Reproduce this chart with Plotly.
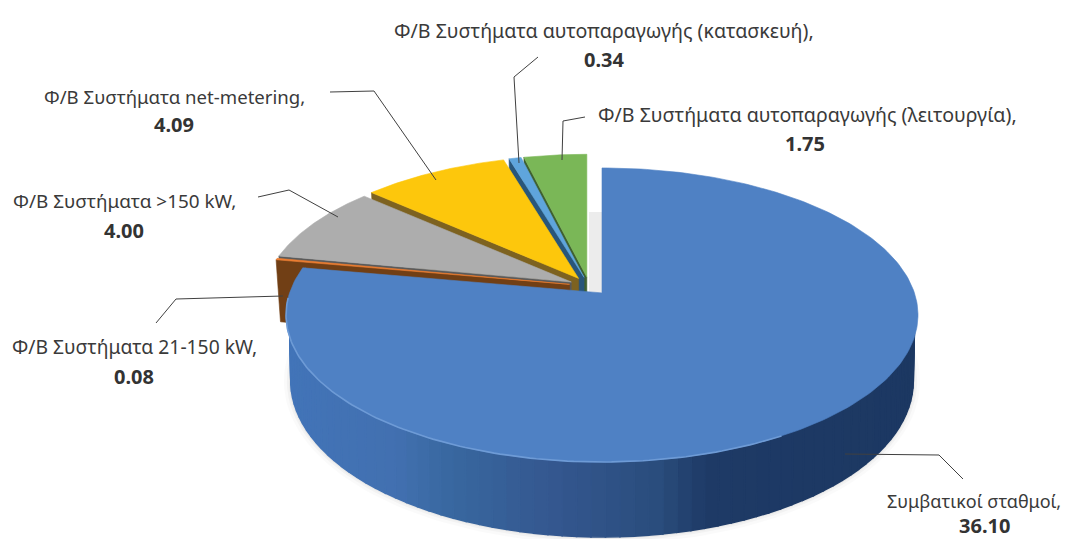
import math
import plotly.graph_objects as go

names = ["Συμβατικοί σταθμοί,", "Φ/Β Συστήματα 21-150 kW,", "Φ/Β Συστήματα >150 kW,",
         "Φ/Β Συστήματα net-metering,", "Φ/Β Συστήματα αυτοπαραγωγής (κατασκευή),",
         "Φ/Β Συστήματα αυτοπαραγωγής (λειτουργία),"]
values = [36.10, 0.08, 4.00, 4.09, 0.34, 1.75]
value_labels = ["36.10", "0.08", "4.00", "4.09", "0.34", "1.75"]
top_colors = ["#4f81c4", "#ed7d31", "#adadad", "#fdc70c", "#5fa5dc", "#7ab757"]
wall_colors = ["#1e3a66", "#713f15", "#5a5a5a", "#7d6220", "#29567a", "#3f6130"]
label_pos = [(974, 501, 984, 525), (134, 346, 134, 376), (124, 201, 124, 230),
             (174, 96, 174, 124), (604, 30, 604, 59), (807, 114, 805, 143)]
label_sizes = [18, 19.3, 18.9, 18.6, 19.6, 19.6]
leaders = [[(845, 454), (939, 455), (963, 479)],
           [(283, 296), (176, 299), (156, 323)],
           [(338, 217), (289, 190), (258, 197)],
           [(436, 180), (374, 91), (330, 92)],
           [(519, 163), (514, 77), (538, 57)],
           [(562, 160), (563, 121), (585, 117)]]

# projection of the tilted disc onto the page
CX, CY = 589.2, 286.0
EXPLODE_X, EXPLODE_Y = 20.0, 9.0
A, B, K = 312.4, 143.7, 0.15
BOTTOM_SCALE = 0.985
GROUP_RADIUS = 0.98

total = sum(values)
spans = []
acc = 0.0
for v in values:
    spans.append((acc / total * 2 * math.pi, (acc + v) / total * 2 * math.pi))
    acc += v


def apex(i):
    mid = sum(spans[i]) / 2
    return CX + EXPLODE_X * math.sin(mid), CY - EXPLODE_Y * math.cos(mid)


def top(i, t, r=1.0):
    ax, ay = apex(i)
    w = 1 + K * math.cos(t) * r
    return ax + r * A * math.sin(t) / w, ay - r * B * math.cos(t) / w


def bottom(i, t, r=1.0):
    ax, ay = apex(i)
    x, y = top(i, t, r)
    return ax + BOTTOM_SCALE * (x - ax), y + 64 - 11 * math.cos(t) * r


def poly(fig, pts, color, lw=0.6):
    fig.add_trace(go.Scatter(
        x=[p[0] for p in pts] + [pts[0][0]], y=[p[1] for p in pts] + [pts[0][1]],
        mode="lines", fill="toself", fillcolor=color,
        line=dict(color=color, width=lw), hoverinfo="skip", showlegend=False))


def arc(f, i, t0, t1, r=1.0, n=90):
    return [f(i, t0 + (t1 - t0) * j / n, r) for j in range(n + 1)]


side_stops = [(285, (66, 116, 184)), (394, (66, 112, 176)), (450, (56, 103, 159)),
              (553, (52, 87, 143)), (656, (42, 77, 125)), (708, (30, 58, 102)),
              (930, (28, 56, 98))]


def side_color(x):
    for (x0, c0), (x1, c1) in zip(side_stops, side_stops[1:]):
        if x <= x1:
            f = max(0.0, (x - x0) / (x1 - x0))
            return "rgb(%d,%d,%d)" % tuple(round(a + (b - a) * f) for a, b in zip(c0, c1))
    return "rgb(28,56,98)"


fig = go.Figure()

# soft ground shadow under the disc (front arc only, so the white gap stays clean)
sh0, sh1 = math.radians(70), math.radians(282)
for grow, alpha in ((7, 0.02), (4, 0.03), (2, 0.04)):
    pts = []
    for j in range(121):
        t = sh0 + (sh1 - sh0) * j / 120
        x, y = bottom(0, t)
        pts.append((x + grow * math.sin(t), y - grow * math.cos(t)))
    poly(fig, pts, "rgba(0,0,0,%g)" % alpha, lw=0)

# back-to-front: the small slices first, the large one last
for i in [5, 4, 3, 2, 1]:
    t0, t1 = spans[i]
    ax, ay = apex(i)
    r = GROUP_RADIUS
    poly(fig, [top(i, t0, r), (ax, ay), (ax, ay + 64), bottom(i, t0, r)], wall_colors[i])
    poly(fig, [(ax, ay)] + arc(top, i, t0, t1, r), top_colors[i])

t0, t1 = spans[0]
strip_from = math.radians(74)
N = 90
for j in range(N):
    a0 = strip_from + (t1 - strip_from) * j / N
    a1 = strip_from + (t1 - strip_from) * (j + 1) / N
    pts = arc(top, 0, a0, a1, r=0.99, n=3) + arc(bottom, 0, a1, a0, n=3)
    poly(fig, pts, side_color(top(0, (a0 + a1) / 2)[0]), lw=1.6)
ax0, ay0 = apex(0)
poly(fig, [(ax0, ay0)] + arc(top, 0, t0, t1, n=240), top_colors[0])
rim = arc(top, 0, math.radians(150), math.radians(268), n=120)
fig.add_trace(go.Scatter(x=[p[0] for p in rim], y=[p[1] for p in rim], mode="lines",
                         line=dict(color="#6e9bd6", width=1.6), hoverinfo="skip",
                         showlegend=False))

# leader lines
for path in leaders:
    fig.add_trace(go.Scatter(x=[p[0] for p in path], y=[p[1] for p in path], mode="lines",
                             line=dict(color="#404040", width=1), hoverinfo="skip",
                             showlegend=False))

FONT = "Noto Sans"
ann = []
for name, vl, (nx, ny, vx, vy), fs in zip(names, value_labels, label_pos, label_sizes):
    ann.append(dict(x=nx, y=ny, text=name, showarrow=False, xanchor="center", yanchor="middle",
                    font=dict(family=FONT, size=fs, color="#3a3a3a")))
    ann.append(dict(x=vx, y=vy, text="<b>%s</b>" % vl, showarrow=False, xanchor="center",
                    yanchor="middle", font=dict(family=FONT, size=20, color="#333333")))

fig.update_layout(
    width=1078, height=539, margin=dict(l=0, r=0, t=0, b=0),
    paper_bgcolor="white", plot_bgcolor="white", showlegend=False, annotations=ann,
    xaxis=dict(range=[0, 1078], visible=False, fixedrange=True),
    yaxis=dict(range=[539, 0], visible=False, fixedrange=True),
    shapes=[dict(type="rect", xref="x", yref="y", x0=589, x1=602, y0=212, y1=293,
                 fillcolor="#ececec", line=dict(width=0), layer="below")],
)
fig.write_html("out.html", config={"displayModeBar": False},
               post_script="document.body.style.margin='0';document.documentElement.style.overflow='hidden';")
